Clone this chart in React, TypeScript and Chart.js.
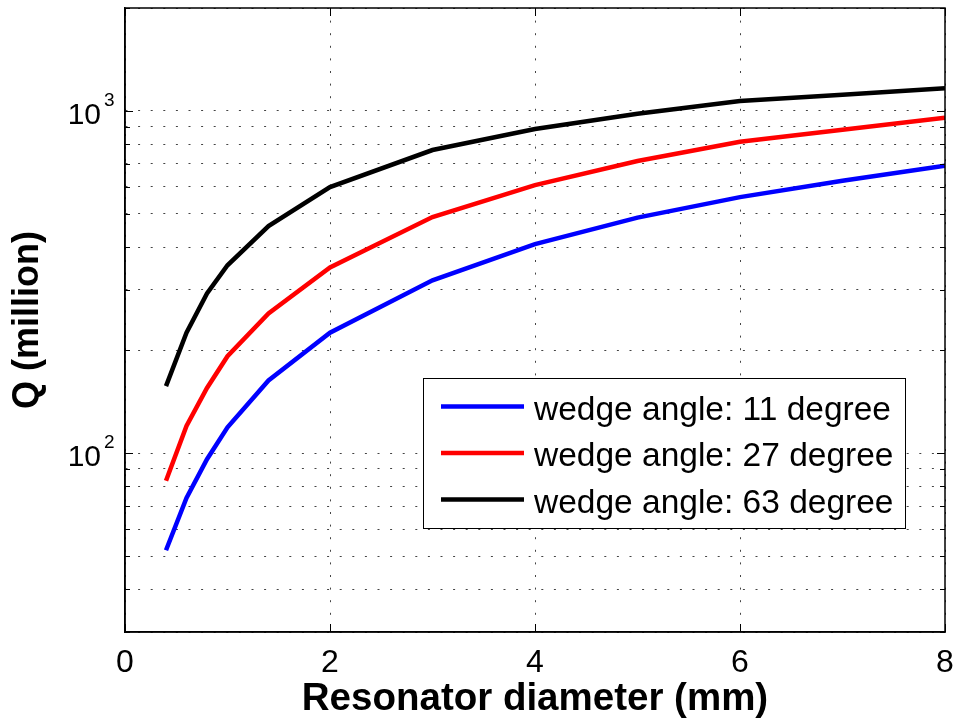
import React, { useEffect, useRef } from 'react';
import { Chart, registerables } from 'chart.js';

Chart.register(...registerables);

// ---- data ----
const diameters = [0.4, 0.6, 0.8, 1.0, 1.4, 2, 3, 4, 5, 6, 7, 8];
const q11 = [52, 74, 96, 119, 163, 225, 320, 408, 488, 560, 625, 692];
const q27 = [83, 120, 155, 192, 256, 349, 490, 607, 714, 813, 881, 956];
const q63 = [157, 225, 293, 354, 461, 599, 769, 886, 982, 1070, 1116, 1165];
const seriesLabels = ['wedge angle: 11 degree', 'wedge angle: 27 degree', 'wedge angle: 63 degree'];
const seriesColors = ['#0000ff', '#ff0000', '#000000'];

const xTickValues = [0, 2, 4, 6, 8];
const yGridValues = [30, 40, 50, 60, 70, 80, 90, 100, 200, 300, 400, 500, 600, 700, 800, 900, 1000, 2000];
const yMajorValues = [100, 1000];
const yMajorExponents = ['2', '3'];

const FONT = '"Liberation Sans", Arial, Helvetica, sans-serif';

const decorPlugin = {
  id: 'matlabDecor',
  afterDatasetsDraw(chart: any) {
    const { ctx, chartArea: a, scales } = chart;
    const xs = scales.x;
    const ys = scales.y;
    ctx.save();

    // box
    ctx.strokeStyle = '#000';
    ctx.lineWidth = 1.5;
    ctx.setLineDash([]);
    ctx.strokeRect(a.left, a.top, a.right - a.left, a.bottom - a.top);

    // inward ticks
    ctx.lineWidth = 1;
    ctx.beginPath();
    xTickValues.forEach((v) => {
      const px = Math.round(xs.getPixelForValue(v)) + 0.5;
      ctx.moveTo(px, a.bottom);
      ctx.lineTo(px, a.bottom - 8);
      ctx.moveTo(px, a.top);
      ctx.lineTo(px, a.top + 8);
    });
    yGridValues.forEach((v) => {
      const len = yMajorValues.includes(v) ? 8 : 5;
      const py = Math.round(ys.getPixelForValue(v)) + 0.5;
      ctx.moveTo(a.left, py);
      ctx.lineTo(a.left + len, py);
      ctx.moveTo(a.right, py);
      ctx.lineTo(a.right - len, py);
    });
    ctx.stroke();

    // y tick labels 10^n
    ctx.fillStyle = '#000';
    ctx.textBaseline = 'alphabetic';
    yMajorValues.forEach((v, i) => {
      const py = ys.getPixelForValue(v);
      ctx.font = `30px ${FONT}`;
      ctx.textAlign = 'right';
      ctx.fillText('10', a.left - 24, py + 13);
      ctx.font = `19px ${FONT}`;
      ctx.textAlign = 'left';
      ctx.fillText(yMajorExponents[i], a.left - 21, py - 5);
    });

    // legend
    const bx = a.left + 298;
    const by = a.top + 370;
    const bw = 482;
    const bh = 150;
    ctx.fillStyle = '#fff';
    ctx.fillRect(bx, by, bw, bh);
    ctx.strokeStyle = '#000';
    ctx.lineWidth = 1;
    ctx.strokeRect(bx + 0.5, by + 0.5, bw, bh);
    chart.data.datasets.forEach((ds: any, i: number) => {
      const ry = by + 28.5 + i * 46.5;
      ctx.strokeStyle = ds.borderColor;
      ctx.lineWidth = 4.5;
      ctx.beginPath();
      ctx.moveTo(bx + 18, ry);
      ctx.lineTo(bx + 101, ry);
      ctx.stroke();
      ctx.fillStyle = '#000';
      ctx.font = `33.5px ${FONT}`;
      ctx.textAlign = 'left';
      ctx.textBaseline = 'alphabetic';
      ctx.fillText(ds.label, bx + 111, ry + 13);
    });

    ctx.restore();
  },
};

export default function App() {
  const ref = useRef<HTMLCanvasElement | null>(null);

  useEffect(() => {
    if (!ref.current) return;
    const datasets = [q11, q27, q63].map((vals, i) => ({
      label: seriesLabels[i],
      data: diameters.map((d, j) => ({ x: d, y: vals[j] })),
      borderColor: seriesColors[i],
      backgroundColor: seriesColors[i],
      borderWidth: 4.5,
      pointRadius: 0,
      tension: 0,
      fill: false,
    }));

    const gridCommon = {
      color: '#444',
      lineWidth: 1,
      drawTicks: false,
    };

    const chart = new Chart(ref.current, {
      type: 'line',
      data: { datasets },
      options: {
        animation: false,
        responsive: false,
        devicePixelRatio: 1,
        layout: { padding: { top: 8, right: 10, left: 0, bottom: 0 } },
        plugins: {
          legend: { display: false },
          tooltip: { enabled: false },
        },
        scales: {
          x: {
            type: 'linear',
            min: 0,
            max: 8,
            afterBuildTicks: (scale: any) => {
              scale.ticks = xTickValues.map((v) => ({ value: v }));
            },
            afterFit: (scale: any) => {
              scale.height = 90;
              scale.paddingLeft = 0;
              scale.paddingRight = 0;
            },
            ticks: {
              color: '#000',
              font: { family: FONT, size: 32 },
              padding: 12,
              maxRotation: 0,
            },
            grid: gridCommon,
            border: { display: true, color: '#000', width: 1.5, dash: [2, 10.6] },
            title: {
              display: true,
              text: 'Resonator diameter (mm)',
              color: '#000',
              font: { family: FONT, size: 38.5, weight: 'bold' },
              padding: { top: 0, bottom: 0 },
            },
          },
          y: {
            type: 'logarithmic',
            min: 30,
            max: 2000,
            afterBuildTicks: (scale: any) => {
              scale.ticks = yGridValues.map((v) => ({ value: v }));
            },
            afterFit: (scale: any) => {
              scale.width = 125;
              scale.paddingTop = 0;
              scale.paddingBottom = 0;
            },
            ticks: { display: false },
            grid: gridCommon,
            border: { display: true, color: '#000', width: 1.5, dash: [2, 10.6] },
            title: {
              display: true,
              text: 'Q (million)',
              color: '#000',
              font: { family: FONT, size: 36, weight: 'bold' },
              padding: { top: 6, bottom: 0 },
            },
          },
        },
      },
      plugins: [decorPlugin],
    } as any);

    return () => {
      chart.destroy();
    };
  }, []);

  return (
    <div style={{ position: 'absolute', left: 0, top: 0, width: 955, height: 722, background: '#fff' }}>
      <canvas ref={ref} width={955} height={722} style={{ display: 'block' }} />
    </div>
  );
}
